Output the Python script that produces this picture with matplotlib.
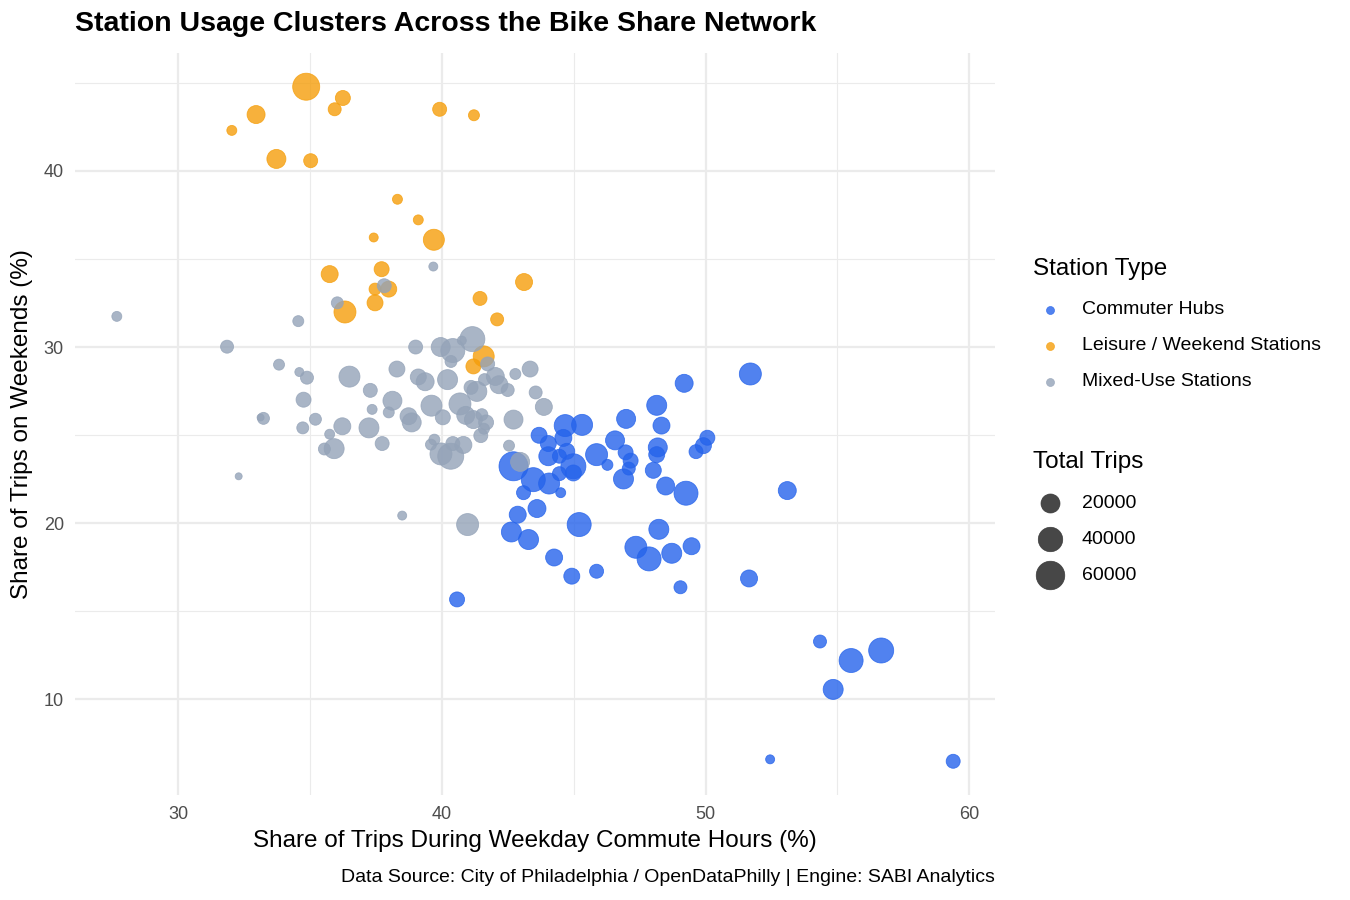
import numpy as np
import matplotlib
matplotlib.use("Agg")
import matplotlib.pyplot as plt

plt.rcParams['font.family'] = ['Liberation Sans', 'DejaVu Sans']

# ---------------- data ----------------
commuter_x = [49.19, 48.15, 48.33, 46.99, 46.57, 46.97, 47.16, 47.09, 46.89, 46.28,
              45.87, 48.19, 48.15, 48.02, 48.49, 49.26, 49.64, 49.92, 50.07, 48.23,
              47.36, 47.86, 48.72, 49.47, 45.87, 45.21, 44.26, 44.93, 43.29, 42.64,
              42.88, 43.61, 43.10, 44.51, 42.72, 43.47, 44.07, 43.69, 44.68, 45.32,
              44.61, 44.04, 44.04, 44.74, 44.46, 44.99, 44.99, 44.46, 51.70, 51.65,
              53.10, 49.05, 40.58, 54.34, 55.52, 54.84, 56.66, 52.45, 59.39]
commuter_y = [27.94, 26.69, 25.54, 25.92, 24.70, 24.02, 23.55, 23.10, 22.51, 23.31,
              23.89, 24.30, 23.89, 23.00, 22.11, 21.70, 24.06, 24.40, 24.85, 19.65,
              18.63, 17.97, 18.29, 18.69, 17.27, 19.92, 18.05, 16.99, 19.07, 19.50,
              20.48, 20.83, 21.73, 21.73, 23.23, 22.47, 22.25, 24.99, 25.54, 25.58,
              24.84, 24.52, 23.80, 24.08, 23.80, 23.23, 22.85, 22.81, 28.47, 16.86,
              21.85, 16.36, 15.67, 13.28, 12.20, 10.56, 12.77, 6.59, 6.48]
commuter_trips = [17100, 23100, 14500, 20000, 20000, 10000, 10000, 6500, 23100, 4000,
                  30100, 20000, 12100, 12100, 17100, 38100, 8100, 12100, 10000, 23100,
                  30100, 38100, 23100, 14500, 8100, 38100, 14500, 12100, 23100, 23100,
                  14500, 17100, 8100, 3100, 62400, 38100, 26500, 12100, 30100, 26500,
                  14500, 12100, 20000, 12100, 8100, 42500, 12100, 8100, 30100, 14500,
                  17100, 6500, 10000, 6500, 38100, 23100, 42500, 2500, 8100]

leisure_x = [34.86, 36.25, 35.94, 32.96, 32.04, 33.73, 35.03, 39.92, 41.22, 38.32,
             39.11, 39.70, 37.42, 35.75, 37.72, 37.47, 37.99, 37.47, 36.33, 43.12,
             41.45, 42.10, 41.59, 41.20]
leisure_y = [44.78, 44.14, 43.50, 43.20, 42.30, 40.68, 40.58, 43.50, 43.16, 38.39,
             37.22, 36.09, 36.22, 34.14, 34.42, 33.29, 33.29, 32.51, 31.99, 33.69,
             32.76, 31.57, 29.47, 28.90]
leisure_trips = [52000, 10000, 6500, 17100, 3100, 20000, 8100, 8100, 4000, 3100,
                 3100, 26500, 2500, 14500, 10000, 5100, 12100, 12100, 30100, 14500,
                 8100, 6500, 26500, 10000]

mixed_x = [37.82, 36.04, 39.68, 27.68, 34.56, 41.16, 39.01, 39.96, 40.42, 40.35,
           40.76, 31.86, 33.83, 34.60, 34.89, 36.50, 38.30, 39.11, 39.37, 40.22,
           41.74, 42.03, 42.79, 43.35, 43.56, 43.87, 41.11, 41.33, 41.62, 42.17,
           42.50, 37.29, 34.76, 38.13, 37.36, 37.99, 39.61, 40.04, 40.69, 40.91,
           41.20, 41.52, 41.68, 41.60, 41.48, 42.72, 33.24, 33.13, 35.21, 34.73,
           36.23, 37.24, 38.74, 38.86, 35.75, 35.55, 35.92, 37.74, 39.72, 39.59,
           39.97, 40.34, 40.42, 40.82, 42.55, 42.97, 32.30, 38.50, 40.98]
mixed_y = [33.48, 32.51, 34.57, 31.74, 31.47, 30.45, 30.00, 30.00, 29.80, 29.18,
           30.37, 30.02, 29.00, 28.58, 28.26, 28.32, 28.75, 28.30, 28.03, 28.15,
           29.04, 28.33, 28.47, 28.75, 27.42, 26.60, 27.71, 27.48, 28.15, 27.86,
           27.56, 27.54, 27.01, 26.95, 26.46, 26.29, 26.67, 26.01, 26.77, 26.12,
           25.88, 26.16, 25.72, 25.36, 24.97, 25.88, 25.95, 26.00, 25.90, 25.41,
           25.50, 25.41, 26.07, 25.72, 25.05, 24.21, 24.23, 24.52, 24.74, 24.46,
           23.93, 23.80, 24.52, 24.44, 24.40, 23.48, 22.66, 20.43, 19.92]
mixed_trips = [8100, 5100, 2500, 3100, 4000, 42500, 8100, 20000, 38100, 5100,
               2500, 6500, 4000, 2500, 6500, 26500, 12100, 12100, 17100, 23100,
               8100, 17100, 4000, 12100, 6500, 14500, 8100, 23100, 5100, 17100,
               6500, 8100, 10000, 20000, 3100, 4000, 26500, 10000, 30100, 17100,
               17100, 5100, 10000, 4000, 8100, 20000, 5100, 2000, 5100, 5100,
               14500, 23100, 14500, 20000, 3100, 5100, 23100, 8100, 4000, 4000,
               30100, 47100, 8100, 14500, 4000, 20000, 2000, 2500, 30100]

group_names = ["Commuter Hubs", "Leisure / Weekend Stations", "Mixed-Use Stations"]
group_colors = ["#2563EB", "#F59E0B", "#94A3B8"]
size_breaks = [20000, 40000, 60000]

# ---------------- size mapping ----------------
DPI = 100
def trips_to_s(v):
    v = np.asarray(v, dtype=float)
    d_px = 7 + 0.0895 * np.sqrt(np.clip(v - 2000, 0, None))
    d_pt = d_px * 72.0 / DPI
    return d_pt ** 2

# ---------------- figure ----------------
fig = plt.figure(figsize=(13.5, 9), dpi=DPI)
ax = fig.add_axes([75 / 1350, 1 - 795 / 900, 920 / 1350, 742 / 900])

groups = [(commuter_x, commuter_y, commuter_trips),
          (leisure_x, leisure_y, leisure_trips),
          (mixed_x, mixed_y, mixed_trips)]
for (gx, gy, gt), col in zip(groups, group_colors):
    ax.scatter(gx, gy, s=trips_to_s(gt), c=col, alpha=0.8,
               edgecolors=col, linewidths=0.6, zorder=3)

allx = np.concatenate([commuter_x, leisure_x, mixed_x])
ally = np.concatenate([commuter_y, leisure_y, mixed_y])
def expand(a):
    lo, hi = a.min(), a.max()
    r = hi - lo
    return lo - 0.05 * r, hi + 0.05 * r
ax.set_xlim(*expand(allx))
ax.set_ylim(*expand(ally))

ax.set_xticks([30, 40, 50, 60])
ax.set_yticks([10, 20, 30, 40])
ax.set_xticks([35, 45, 55], minor=True)
ax.set_yticks([15, 25, 35, 45], minor=True)
ax.grid(which='major', color='#EBEBEB', linewidth=1.6, zorder=0)
ax.grid(which='minor', color='#EBEBEB', linewidth=0.8, zorder=0)
ax.set_axisbelow(True)
for sp in ax.spines.values():
    sp.set_visible(False)
ax.tick_params(which='both', length=0, labelsize=13, labelcolor='#4D4D4D', pad=8)

ax.set_xlabel("Share of Trips During Weekday Commute Hours (%)", fontsize=17.5,
              color='black', labelpad=5)
ax.set_ylabel("Share of Trips on Weekends (%)", fontsize=17.5, color='black', labelpad=8)

fig.text(75 / 1350, 1 - 24 / 900, "Station Usage Clusters Across the Bike Share Network",
         fontsize=20.5, fontweight='bold', ha='left', va='center')
fig.text(995 / 1350, 1 - 877 / 900,
         "Data Source: City of Philadelphia / OpenDataPhilly | Engine: SABI Analytics",
         fontsize=14, ha='right', va='center')

# ---------------- legends ----------------
fig.text(1033 / 1350, 1 - 269 / 900, "Station Type", fontsize=17.5, ha='left', va='center')
for i, (name, col) in enumerate(zip(group_names, group_colors)):
    yy = 1 - (310 + 36 * i) / 900
    fig.text(1082 / 1350, yy, name, fontsize=14, ha='left', va='center')
    ax.scatter([1050 / 1350], [yy], s=(8 * 72 / DPI) ** 2, c=col, alpha=0.8,
               edgecolors=col, linewidths=0.5, transform=fig.transFigure,
               clip_on=False, zorder=5)

fig.text(1033 / 1350, 1 - 462 / 900, "Total Trips", fontsize=17.5, ha='left', va='center')
for i, b in enumerate(size_breaks):
    yy = 1 - (503 + 36 * i) / 900
    fig.text(1082 / 1350, yy, f"{b}", fontsize=14, ha='left', va='center')
    ax.scatter([1050 / 1350], [yy], s=trips_to_s([b]), c='#333333', alpha=0.9,
               edgecolors='#333333', linewidths=0.5, transform=fig.transFigure,
               clip_on=False, zorder=5)

fig.savefig("out.png", dpi=DPI)
